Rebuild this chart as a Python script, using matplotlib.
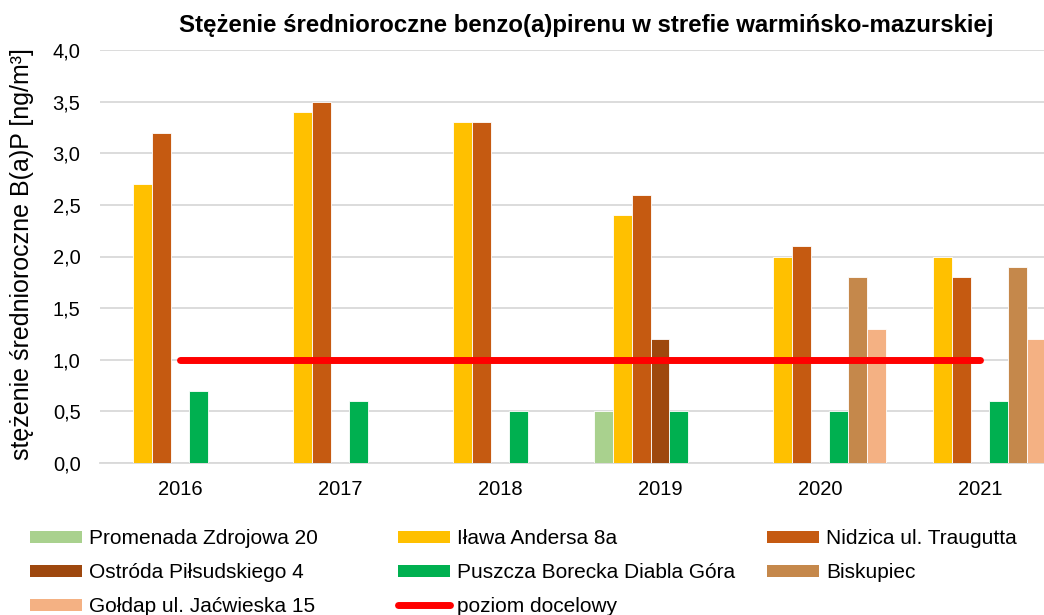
import numpy as np
import matplotlib
matplotlib.use("Agg")
import matplotlib.pyplot as plt
from matplotlib.patches import Patch
from matplotlib.lines import Line2D

plt.rcParams['font.family'] = ['Liberation Sans', 'DejaVu Sans']

years = ["2016", "2017", "2018", "2019", "2020", "2021"]
series_names = ["Promenada Zdrojowa 20", "Iława Andersa 8a", "Nidzica ul. Traugutta",
                "Ostróda Piłsudskiego 4", "Puszcza Borecka Diabla Góra", "Biskupiec",
                "Gołdap ul. Jaćwieska 15"]
nan = np.nan
promenada = [nan, nan, nan, 0.5, nan, nan]
ilawa = [2.7, 3.4, 3.3, 2.4, 2.0, 2.0]
nidzica = [3.2, 3.5, 3.3, 2.6, 2.1, 1.8]
ostroda = [nan, nan, nan, 1.2, nan, nan]
puszcza = [0.7, 0.6, 0.5, 0.5, 0.5, 0.6]
biskupiec = [nan, nan, nan, nan, 1.8, 1.9]
goldap = [nan, nan, nan, nan, 1.3, 1.2]
target = [1.0, 1.0, 1.0, 1.0, 1.0, 1.0]
target_name = "poziom docelowy"

colors = ["#A9D18E", "#FFC000", "#C55A11", "#9E480E", "#00B050", "#C5884B", "#F4B183"]
all_series = [promenada, ilawa, nidzica, ostroda, puszcza, biskupiec, goldap]

fig = plt.figure(figsize=(10.44, 6.15), dpi=100)
W, H = 1044, 615
left, right, top, bottom = 100, 1060, 50, 463
ax = fig.add_axes([left / W, 1 - bottom / H, (right - left) / W, (bottom - top) / H])

x = np.arange(len(years))
n = len(all_series)
bw = 0.83 / n
for i, (vals, c) in enumerate(zip(all_series, colors)):
    ax.bar(x + (i - (n - 1) / 2) * bw, vals, width=bw, color=c, edgecolor="white",
           linewidth=0.6, zorder=3)

ax.plot(x, target, color="#FF0000", linewidth=5, solid_capstyle="round", zorder=4)

ax.set_xlim(-0.5, len(years) - 0.5)
ax.set_ylim(0, 4.0)
ax.set_yticks(np.arange(0, 4.01, 0.5))
ax.set_yticklabels([f"{v:.1f}".replace(".", ",") for v in np.arange(0, 4.01, 0.5)])
ax.set_xticks(x)
ax.set_xticklabels(years)
ax.tick_params(axis="y", length=0, pad=14, labelsize=14.5, labelcolor="#000000")
ax.tick_params(axis="x", length=0, pad=12, labelsize=14.5, labelcolor="#000000")
ax.grid(axis="y", color="#D9D9D9", linewidth=1.3, zorder=0)
for s in ["left", "right", "top"]:
    ax.spines[s].set_visible(False)
ax.spines["bottom"].set_color("#D9D9D9")
ax.spines["bottom"].set_linewidth(1.3)

fig.text(586 / W, 1 - 32 / H, "Stężenie średnioroczne benzo(a)pirenu w strefie warmińsko-mazurskiej",
         ha="center", va="baseline", fontsize=17.3, fontweight="bold")
fig.text(22 / W, 1 - 254 / H, "stężenie średnioroczne B(a)P [ng/m³]", rotation=90,
         ha="center", va="center", fontsize=18)

handles = [Patch(facecolor=c, edgecolor="none") for c in colors]
handles.append(Line2D([0], [0], color="#FF0000", linewidth=5, solid_capstyle="round"))
labels = series_names + [target_name]
cols = [[0, 3, 6], [1, 4, 7], [2, 5]]
col_x = [30, 398, 767]
for cx, idxs in zip(col_x, cols):
    fig.legend([handles[i] for i in idxs], [labels[i] for i in idxs],
               loc="upper left", bbox_to_anchor=(cx / W, 1 - 529 / H),
               frameon=False, fontsize=15, handlelength=2.5, handleheight=0.5,
               handletextpad=0.33, labelspacing=0.72, borderaxespad=0, borderpad=0)

fig.savefig("out.png", dpi=100)
